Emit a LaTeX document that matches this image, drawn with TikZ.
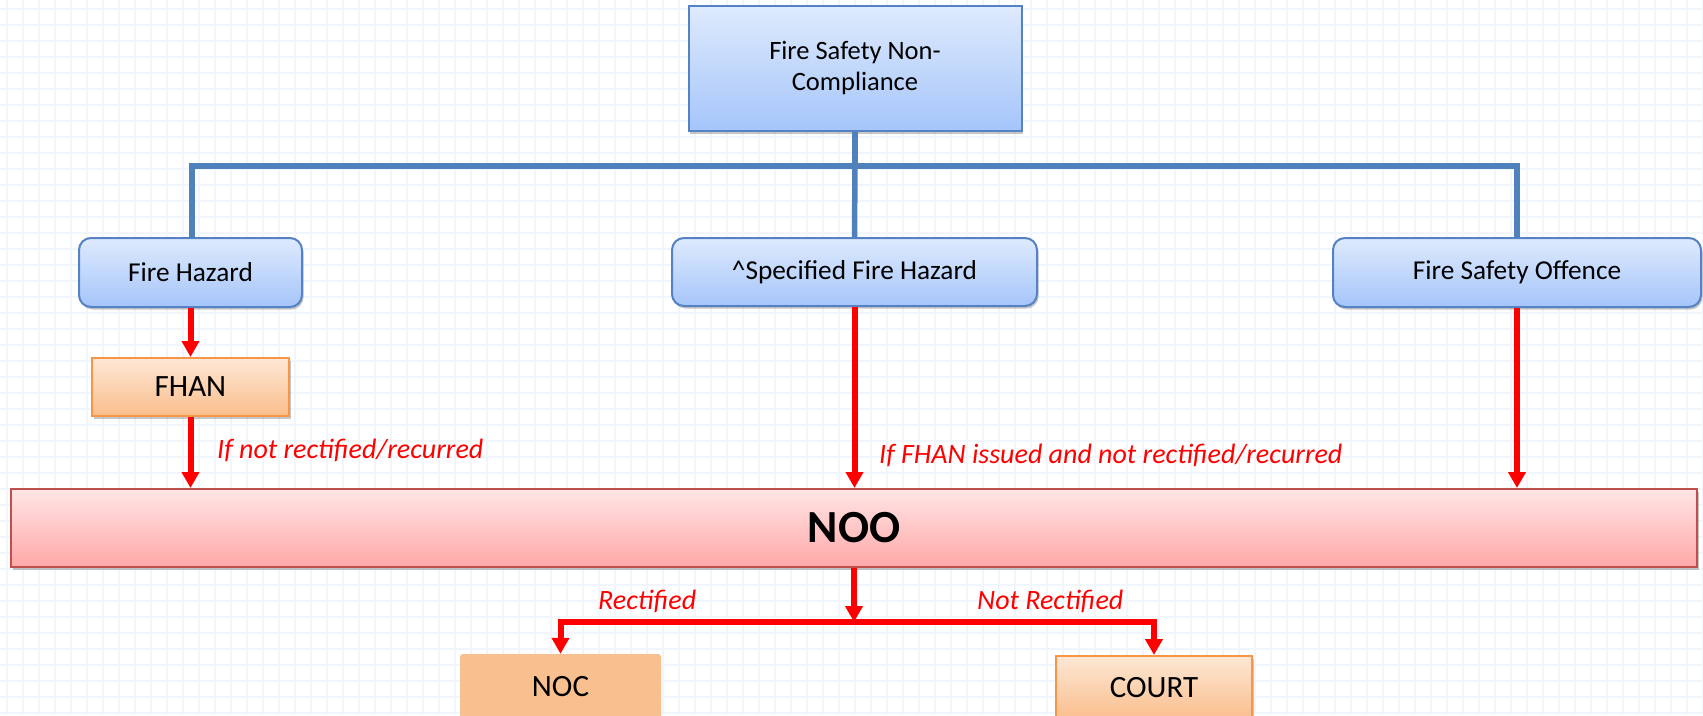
\documentclass[tikz,border=0pt]{standalone}
\usepackage{fontspec}
\setmainfont{Carlito}
\usetikzlibrary{arrows.meta,shadows}
\definecolor{gridc}{RGB}{241,246,252}
\definecolor{bluebd}{RGB}{84,130,196}
\definecolor{bluetop}{RGB}{222,234,253}
\definecolor{bluebot}{RGB}{165,197,250}
\definecolor{blueln}{RGB}{79,129,189}
\definecolor{orbd}{RGB}{247,150,70}
\definecolor{ortop}{RGB}{253,231,213}
\definecolor{orbot}{RGB}{250,190,140}
\definecolor{nocfill}{RGB}{249,192,143}
\definecolor{redbd}{RGB}{192,80,77}
\definecolor{redtop}{RGB}{255,229,229}
\definecolor{redbot}{RGB}{255,168,168}
\definecolor{arrred}{RGB}{255,0,0}
\tikzset{
  boxshadow/.style={drop shadow={shadow xshift=1.5pt,shadow yshift=-2.5pt,opacity=0.22,fill=black}},
  bluebox/.style={draw=bluebd,line width=2pt,rounded corners=12pt,top color=bluetop,bottom color=bluebot,
    inner sep=0pt,align=center,font=\fontsize{27.3}{31}\selectfont,boxshadow},
  orbox/.style={draw=orbd,line width=2pt,top color=ortop,bottom color=orbot,inner sep=0pt,
    font=\fontsize{31}{36}\selectfont,boxshadow},
  nocbox/.style={fill=nocfill,rounded corners=3pt,inner sep=0pt,font=\fontsize{31}{36}\selectfont},
  noobox/.style={draw=redbd,line width=2pt,top color=redtop,bottom color=redbot,inner sep=0pt,
    font=\fontsize{46}{52}\selectfont\bfseries,boxshadow},
  blueconn/.style={draw=blueln,line width=5.5pt},
  redarrow/.style={draw=arrred,line width=6pt,-{Triangle[width=17pt,length=16pt]}},
  redlabel/.style={text=arrred,inner sep=0pt,font=\fontsize{28}{32}\selectfont\itshape},
}
\begin{document}
\begin{tikzpicture}[x=1pt,y=-1pt]
\fill[white] (0,0) rectangle (1703,715);
\useasboundingbox (0,0) rectangle (1703,715);
\foreach \gx in {7,23,...,1703} \draw[gridc,line width=1.5pt] (\gx,0) -- (\gx,715);
\foreach \gy in {9,25,...,715} \draw[gridc,line width=1.5pt] (0,\gy) -- (1703,\gy);

\node[bluebox,rounded corners=0pt,minimum width=333pt,minimum height=125pt,font=\fontsize{26.5}{31}\selectfont] (top) at (855,68.5) {Fire Safety Non-\\Compliance};
\node[bluebox,minimum width=223pt,minimum height=69pt] (fh) at (190.5,272.5) {Fire Hazard};
\node[bluebox,minimum width=365pt,minimum height=68pt] (sfh) at (854.5,272) {\^{}Specified Fire Hazard};
\node[bluebox,minimum width=368pt,minimum height=69pt] (fso) at (1517,272.5) {Fire Safety Offence};
\node[orbox,minimum width=197pt,minimum height=58pt] (fhan) at (190.5,387) {FHAN};
\node[noobox,minimum width=1686pt,minimum height=78pt] (noo) at (854,528) {NOO};
\node[nocbox,minimum width=201pt,minimum height=66pt] (noc) at (560.5,687) {NOC};
\node[orbox,minimum width=196pt,minimum height=64pt] (court) at (1154,688) {COURT};

\coordinate (bar) at (855,166);
\draw[blueconn] (top.south) -- (bar);
\draw[blueconn] (bar) -| (192,238);
\draw[blueconn] (bar) -| (fso.north);
\draw[blueconn] (bar) -- (sfh.north);

\draw[redarrow] (fh.south) -- (fhan.north);
\draw[redarrow] (fhan.south) -- (fhan.south |- noo.north);
\draw[redarrow] (sfh.south) -- (sfh.south |- noo.north);
\draw[redarrow] (fso.south) -- (fso.south |- noo.north);

\coordinate (split) at (854,622);
\draw[redarrow] (noo.south) -- (split);
\draw[redarrow] (split) -| (noc.north);
\draw[redarrow] (split) -| (court.north);

\node[redlabel,anchor=base west] (l1) at (217,458) {If not rectified/recurred};
\node[redlabel,anchor=base west] (l2) at (879,463) {If FHAN issued and not rectified/recurred};
\node[redlabel,anchor=base west] (l3) at (598,609) {Rectified};
\node[redlabel,anchor=base west] (l4) at (977,609) {Not Rectified};
\end{tikzpicture}
\end{document}
